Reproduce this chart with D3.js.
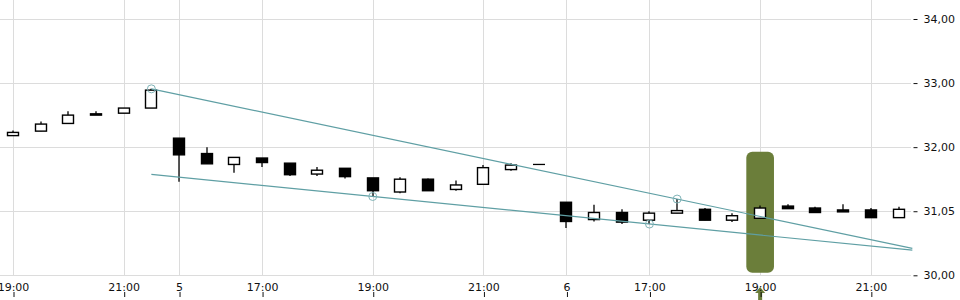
<!DOCTYPE html>
<html>
<head>
<meta charset="utf-8">
<script src="https://cdnjs.cloudflare.com/ajax/libs/d3/7.8.5/d3.min.js"></script>
<style>
body { margin: 0; background: #fff; }
text { font-family: "DejaVu Sans", sans-serif; font-size: 11px; fill: #111; }
</style>
</head>
<body>
<script>
(function(){

//candle times (30 min bars over three sessions)
var times = ["19:00","19:30","20:00","20:30","21:00","21:30",
    "15:30","16:00","16:30","17:00","17:30","18:00","18:30","19:00","19:30","20:00","20:30","21:00","21:30","22:00",
    "15:30","16:00","16:30","17:00","17:30","18:00","18:30","19:00","19:30","20:00","20:30","21:00","21:30"];

var opens  = [32.18,32.25,32.37,32.52,32.53,32.61, 32.14,31.90,31.73,31.83,31.75,31.58,31.67,31.52,31.30,31.50,31.34,31.42,31.65,31.73, 31.14,30.87,30.98,30.86,30.97,31.03,30.86,30.89,31.08,31.05,31.02,31.02,30.90];
var highs  = [32.26,32.40,32.56,32.56,32.61,32.91, 32.14,32.00,31.84,31.83,31.75,31.69,31.67,31.52,31.53,31.51,31.48,31.72,31.75,31.73, 31.14,31.10,31.03,31.00,31.19,31.05,30.97,31.09,31.11,31.07,31.11,31.05,31.07];
var lows   = [32.18,32.25,32.37,32.50,32.53,32.61, 31.46,31.74,31.60,31.69,31.55,31.55,31.51,31.23,31.28,31.32,31.32,31.42,31.63,31.73, 30.74,30.84,30.80,30.80,30.97,30.86,30.83,30.89,31.04,30.98,30.99,30.90,30.90];
var closes = [32.23,32.36,32.50,32.50,32.61,32.89, 31.88,31.74,31.84,31.76,31.57,31.64,31.54,31.32,31.50,31.32,31.41,31.68,31.72,31.73, 30.84,30.98,30.83,30.97,31.01,30.86,30.93,31.05,31.04,30.98,30.99,30.90,31.03];

//x axis ticks (candle index) and labels
var xTickIdx    = [0, 4, 6, 9, 13, 17, 20, 23, 27, 31];
var xTickLabels = ["19:00","21:00","5","17:00","19:00","21:00","6","17:00","19:00","21:00"];

//y axis ticks and labels
var yTicks      = [30, 31, 32, 33, 34];
var yTickLabels = ["30,00","31,05","32,00","33,00","34,00"];

//trend lines: two anchor points [index, price] each, drawn from startIdx to endIdx
var upperAnchors = [[5, 32.91], [24, 31.19]];
var lowerAnchors = [[13, 31.23], [23, 30.80]];
var trendStart = 5, trendEnd = 32.5;

//touch points marked with circles [index, price]
var touchPoints = [[5, 32.91], [13, 31.23], [23, 30.80], [24, 31.19]];

//signal bar
var signalIdx = 27;
var signalRange = [30.04, 31.93];

window.onload = drawChart();

function drawChart(){
    var width = 960, height = 300;
    var plotRight = 911, plotBottom = 276;

    var svg = d3.select("body").append("svg")
        .attr("width", width)
        .attr("height", height);

    var x = d3.scaleLinear().domain([0, times.length - 1]).range([13, 898.5]);
    var y = d3.scaleLinear().domain([30, 34]).range([275.3, 19]);
    var step = x(1) - x(0);

    var data = times.map(function(t, i){
        return {i: i, t: t, o: opens[i], h: highs[i], l: lows[i], c: closes[i]};
    });

    //grid
    svg.append("g").selectAll("line")
        .data(yTicks)
        .enter().append("line")
        .attr("x1", 0).attr("x2", plotRight)
        .attr("y1", function(d){ return Math.round(y(d)) + 0.5; })
        .attr("y2", function(d){ return Math.round(y(d)) + 0.5; })
        .attr("stroke", "#dcdcdc");

    svg.append("g").selectAll("line")
        .data(xTickIdx)
        .enter().append("line")
        .attr("x1", function(d){ return Math.round(x(d)) + 0.5; })
        .attr("x2", function(d){ return Math.round(x(d)) + 0.5; })
        .attr("y1", 0).attr("y2", plotBottom)
        .attr("stroke", "#dcdcdc");

    //y axis on the right
    var yAxis = d3.axisRight(y)
        .tickValues(yTicks)
        .tickSize(5)
        .tickPadding(6)
        .tickFormat(function(d, i){ return yTickLabels[i]; });
    var yg = svg.append("g")
        .attr("transform", "translate(912.5,0)")
        .call(yAxis);
    yg.select(".domain").remove();
    yg.selectAll(".tick line").attr("stroke", "#111").attr("x1", 1);
    yg.selectAll("text").style("font-size", "11px").attr("fill", "#111");

    //signal bar
    svg.append("rect")
        .attr("x", x(signalIdx) - step / 2)
        .attr("width", step)
        .attr("y", y(signalRange[1]))
        .attr("height", y(signalRange[0]) - y(signalRange[1]))
        .attr("rx", 6)
        .attr("fill", "#6b7e3a");

    //signal arrow below the axis
    var ax = x(signalIdx);
    svg.append("path")
        .attr("d", "M" + ax + ",287 L" + (ax + 5) + ",293 L" + (ax + 2) + ",293 L" + (ax + 2) + ",300 L" + (ax - 2) + ",300 L" + (ax - 2) + ",293 L" + (ax - 5) + ",293 Z")
        .attr("fill", "#6b7e3a");

    //x axis
    var xAxis = d3.axisBottom(x)
        .tickValues(xTickIdx)
        .tickSize(0)
        .tickPadding(0)
        .tickFormat(function(d, i){ return xTickLabels[i]; });
    var xg = svg.append("g")
        .attr("transform", "translate(0,283)")
        .call(xAxis);
    xg.select(".domain").remove();
    xg.selectAll("text").attr("dy", "0.71em").style("font-size", "11px").attr("fill", "#111");
    xg.selectAll(".tick").append("line")
        .attr("x1", 0.5).attr("x2", 0.5)
        .attr("y1", 9).attr("y2", 14)
        .attr("stroke", "#111");

    //candles
    var cw = 11;
    var candles = svg.append("g").selectAll("g")
        .data(data)
        .enter().append("g");

    candles.append("line")
        .attr("x1", function(d){ return Math.round(x(d.i)); })
        .attr("x2", function(d){ return Math.round(x(d.i)); })
        .attr("y1", function(d){ return y(d.h); })
        .attr("y2", function(d){ return y(d.l); })
        .attr("stroke", "#000")
        .attr("stroke-width", 1.3);

    candles.filter(function(d){ return d.o != d.c; }).append("rect")
        .attr("x", function(d){ return Math.round(x(d.i)) - cw / 2; })
        .attr("width", cw)
        .attr("y", function(d){ return y(Math.max(d.o, d.c)); })
        .attr("height", function(d){ return Math.abs(y(d.o) - y(d.c)); })
        .attr("fill", function(d){ return d.c > d.o ? "#fff" : "#000"; })
        .attr("stroke", "#000")
        .attr("stroke-width", 1.4);

    candles.filter(function(d){ return d.o == d.c; }).append("line")
        .attr("x1", function(d){ return Math.round(x(d.i)) - cw / 2 - 0.5; })
        .attr("x2", function(d){ return Math.round(x(d.i)) + cw / 2 + 0.5; })
        .attr("y1", function(d){ return y(d.c); })
        .attr("y2", function(d){ return y(d.c); })
        .attr("stroke", "#000")
        .attr("stroke-width", 1.3);

    //trend lines
    function trendValue(anchors, i){
        var a = anchors[0], b = anchors[1];
        return a[1] + (i - a[0]) * (b[1] - a[1]) / (b[0] - a[0]);
    }
    [upperAnchors, lowerAnchors].forEach(function(anchors){
        svg.append("line")
            .attr("x1", x(trendStart))
            .attr("y1", y(trendValue(anchors, trendStart)))
            .attr("x2", x(trendEnd))
            .attr("y2", y(trendValue(anchors, trendEnd)))
            .attr("stroke", "#5f9fa4")
            .attr("stroke-width", 1.2);
    });

    svg.append("g").selectAll("circle")
        .data(touchPoints)
        .enter().append("circle")
        .attr("cx", function(d){ return x(d[0]); })
        .attr("cy", function(d){ return y(d[1]); })
        .attr("r", 4)
        .attr("fill", "none")
        .attr("stroke", "#7fb3b7")
        .attr("stroke-width", 1);
};

})();
</script>
</body>
</html>
